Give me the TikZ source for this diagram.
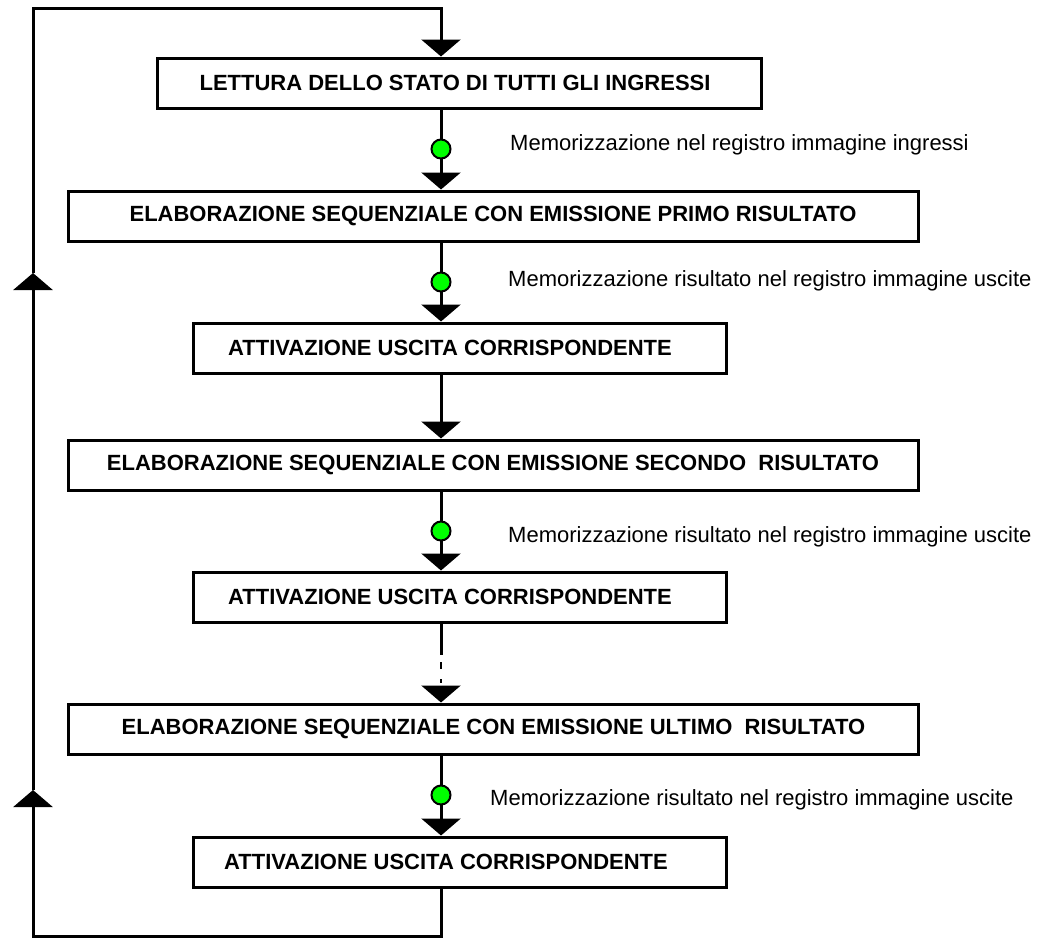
\documentclass[tikz,border=0pt]{standalone}
\usepackage{fontspec}
\setmainfont{Liberation Sans}
\usetikzlibrary{arrows.meta}
\begin{document}
\begin{tikzpicture}[x=1pt,y=-1pt,
  box/.style={draw=black,line width=3pt,fill=white,inner sep=0pt},
  btxt/.style={font=\fontsize{22}{26}\selectfont\bfseries,inner sep=0pt},
  note/.style={font=\fontsize{22}{26}\selectfont,inner sep=0pt,anchor=west},
  flow/.style={line width=3pt,-{Triangle[width=39pt,length=17pt]}},
  wire/.style={line width=3pt},
  dot/.style={circle,draw=black,line width=2pt,fill=green,minimum size=19pt,inner sep=0pt}]
\useasboundingbox (0,0) rectangle (1039,938);
% boxes
\node[box,minimum width=604pt,minimum height=50pt] (b1) at (459,83) {};
\node[box,minimum width=850pt,minimum height=50pt] (b2) at (493,216) {};
\node[box,minimum width=533pt,minimum height=50pt] (b3) at (459.5,348) {};
\node[box,minimum width=850pt,minimum height=50pt] (b4) at (493,465) {};
\node[box,minimum width=533pt,minimum height=50pt] (b5) at (459.5,597) {};
\node[box,minimum width=850pt,minimum height=50pt] (b6) at (493,729) {};
\node[box,minimum width=533pt,minimum height=50pt] (b7) at (459.5,862) {};
% box texts
\node[btxt] (t1) at (455,83) {LETTURA DELLO STATO DI TUTTI GLI INGRESSI};
\node[btxt] (t2) at (493,216) {ELABORAZIONE SEQUENZIALE CON EMISSIONE PRIMO RISULTATO};
\node[btxt] (t3) at (450,348) {ATTIVAZIONE USCITA CORRISPONDENTE};
\node[btxt] (t4) at (493,465) {ELABORAZIONE SEQUENZIALE CON EMISSIONE SECONDO\ \ RISULTATO};
\node[btxt] (t5) at (450,597) {ATTIVAZIONE USCITA CORRISPONDENTE};
\node[btxt] (t6) at (493.5,729) {ELABORAZIONE SEQUENZIALE CON EMISSIONE ULTIMO\ \ RISULTATO};
\node[btxt] (t7) at (446,862) {ATTIVAZIONE USCITA CORRISPONDENTE};
% main flow
\draw[flow] (b1.south -| 441,0) -- (b2.north -| 441,0);
\draw[flow] (b2.south -| 441,0) -- (b3.north -| 441,0);
\draw[flow] (b3.south -| 441,0) -- (b4.north -| 441,0);
\draw[flow] (b4.south -| 441,0) -- (b5.north -| 441,0);
\coordinate (d1) at (441,655);
\coordinate (d2) at (441,662);
\coordinate (d3) at (441,669);
\coordinate (d4) at (441,679);
\coordinate (d5) at (441,683);
\coordinate (d6) at (441,686);
\draw[wire] (b5.south -| 441,0) -- (d1);
\draw[line width=2pt] (d2) -- (d3);
\draw[line width=1.5pt] (d4) -- (d5);
\draw[flow] (d6) -- (b6.north -| 441,0);
\draw[flow] (b6.south -| 441,0) -- (b7.north -| 441,0);
% dots
\node[dot] (c1) at (441,149) {};
\node[dot] (c2) at (441,282) {};
\node[dot] (c3) at (441,531) {};
\node[dot] (c4) at (441,795) {};
% notes
\node[note] (n1) at (510,145) {Memorizzazione nel registro immagine ingressi};
\node[note] (n2) at (508,281) {Memorizzazione risultato nel registro immagine uscite};
\node[note] (n3) at (508,537) {Memorizzazione risultato nel registro immagine uscite};
\node[note] (n4) at (490,800) {Memorizzazione risultato nel registro immagine uscite};
% return loop
\coordinate (r1) at (441,936);
\coordinate (r2) at (33,936);
\coordinate (r3) at (33,790);
\coordinate (r4) at (33,273);
\coordinate (r5) at (33,8);
\coordinate (r6) at (441,8);
\draw[wire,line join=miter] (b7.south -| 441,0) -- (r1) -- (r2) -- (33,807);
\draw[flow] (33,808) -- (r3);
\draw[wire] (r3) -- (33,292);
\draw[flow] (33,293) -- (r4);
\draw[wire,line join=miter] (r4) -- (r5) -- (r6) -- (441,41);
\draw[flow] (441,42) -- (b1.north -| 441,0);
\end{tikzpicture}
\end{document}
